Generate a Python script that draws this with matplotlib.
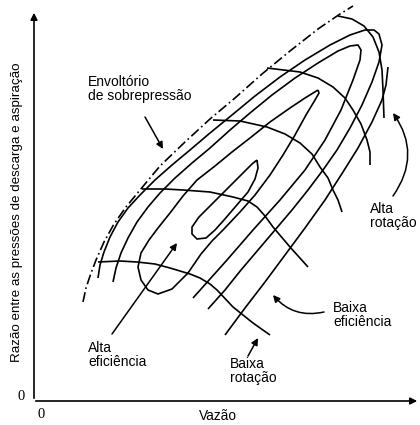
import matplotlib
matplotlib.use("Agg")
import matplotlib.pyplot as plt
import numpy as np

plt.rcParams['font.family'] = ['Liberation Sans', 'DejaVu Sans']

# -------------------------------
# Curves of the compressor map (image coords: x right, y down)
# -------------------------------
surge_x = [83, 86, 90, 96, 104, 114, 126, 140, 160, 185, 210, 235, 262, 290, 318, 340, 353]
surge_y = [302, 288, 276, 260, 242, 224, 207, 190, 166, 142, 119, 98, 74, 51, 29, 14, 6]

# efficiency islands, innermost first
eff_c1 = [(257, 160), (252, 164), (240, 176), (229, 187), (214, 202), (199, 217), (192, 227),
          (192, 234), (197, 239), (206, 238), (215, 230), (224, 220), (236, 206), (248, 192),
          (255, 179), (258, 168), (257, 160)]
eff_c2 = [(318, 90), (305, 98), (290, 108), (270, 122), (250, 138), (232, 152), (215, 166),
          (197, 180), (183, 196), (170, 213), (158, 228), (149, 240), (141, 253), (138, 267),
          (141, 280), (148, 290), (158, 294), (172, 289), (188, 273), (201, 254), (212, 241),
          (223, 230), (240, 212), (255, 195), (270, 175), (283, 155), (295, 135), (306, 115),
          (315, 100), (319, 93), (318, 90)]
eff_c3 = [(113, 282), (116, 268), (121, 253), (128, 238), (137, 222), (148, 207), (160, 193),
          (175, 178), (192, 163), (210, 148), (230, 130), (250, 113), (272, 95), (295, 78),
          (318, 63), (338, 51), (350, 46), (358, 45), (361, 50), (360, 60), (353, 80),
          (341, 110), (325, 140), (305, 170), (280, 200), (253, 230), (227, 260), (210, 279),
          (193, 298)]
eff_c4 = [(98, 278), (100, 265), (104, 252), (110, 237), (118, 222), (128, 208), (140, 195),
          (155, 180), (172, 165), (190, 150), (210, 133), (232, 115), (255, 96), (280, 77),
          (305, 60), (330, 45), (350, 35), (365, 30), (374, 30), (379, 34), (382, 45),
          (379, 62), (372, 82), (362, 105), (350, 128), (337, 150), (323, 170), (308, 190),
          (292, 210), (275, 230), (258, 250), (241, 270), (225, 290), (208, 309)]
eff_c5 = [(225, 335), (245, 308), (265, 282), (285, 255), (305, 228), (325, 200), (343, 172),
          (358, 148), (372, 122), (382, 100), (386, 85), (388, 67)]

# speed lines, high speed first
speed_1 = [(338, 16), (352, 19), (364, 26), (373, 37), (379, 52), (382, 70), (383, 90), (384, 118)]
speed_2 = [(267, 68), (300, 72), (318, 78), (333, 87), (345, 98), (353, 110), (361, 124),
           (367, 140), (370, 152), (370, 165)]
speed_3 = [(213, 120), (240, 121), (267, 127), (285, 134), (300, 143), (312, 154), (320, 167),
           (328, 178), (333, 190), (338, 200), (342, 212)]
speed_4 = [(142, 189), (165, 189), (183, 190), (210, 192), (233, 197), (248, 201), (257, 207),
           (265, 216), (273, 227), (290, 247), (308, 267)]
speed_5 = [(98, 262), (120, 261), (137, 262), (155, 264), (170, 268), (190, 274), (200, 278),
           (210, 284), (217, 290), (233, 307), (253, 323), (270, 335)]

# annotations: text, text position, arrow tail, arrow head, curvature
notes = ["Envoltório\nde sobrepressão", "Alta\neficiência", "Baixa\nrotação",
         "Baixa\neficiência", "Alta\nrotação"]
note_pos = [(88, 89), (88, 355), (230, 371), (333, 315), (370, 216)]
arrow_tail = [(145, 117), (112, 334), (248, 356), (324, 312), (393, 196)]
arrow_head = [(163, 149), (177, 243), (258, 338), (273, 295), (393, 113)]
arrow_rad = [0.0, 0.0, 0.0, -0.3, 0.35]

fig = plt.figure(figsize=(4.2, 4.25), dpi=100)
ax = fig.add_axes([0, 0, 1, 1])
ax.set_xlim(0, 420)
ax.set_ylim(425, 0)
ax.axis('off')

lw = 1.2
ax.plot(surge_x, surge_y, color='black', lw=lw, dashes=(6, 2, 1, 2))
for c in [eff_c1, eff_c2, eff_c3, eff_c4, eff_c5, speed_1, speed_2, speed_3, speed_4, speed_5]:
    c = np.array(c)
    ax.plot(c[:, 0], c[:, 1], color='black', lw=lw, solid_capstyle='butt',
            solid_joinstyle='round')

# axes with arrows
ax.annotate('', xy=(34, 10), xytext=(34, 401),
            arrowprops=dict(arrowstyle='-|>', color='black', lw=1.2, mutation_scale=10))
ax.annotate('', xy=(420, 401), xytext=(33, 401),
            arrowprops=dict(arrowstyle='-|>', color='black', lw=1.2, mutation_scale=10))

ax.text(21, 396, '0', family='Liberation Serif', fontsize=10.5, ha='center', va='center')
ax.text(41, 414, '0', family='Liberation Serif', fontsize=10.5, ha='center', va='center')
ax.text(218, 416, 'Vazão', fontsize=9.8, ha='center', va='center')
ax.text(17, 212, 'Razão entre as pressões de descarga e aspiração', fontsize=9.6,
        rotation=90, ha='center', va='center')

for t, p, a, h, r in zip(notes, note_pos, arrow_tail, arrow_head, arrow_rad):
    ax.text(p[0], p[1], t, fontsize=10, ha='left', va='center', linespacing=1.0)
    ax.annotate('', xy=h, xytext=a,
                arrowprops=dict(arrowstyle='-|>', color='black', lw=1.1, mutation_scale=10,
                                shrinkA=0, shrinkB=0,
                                connectionstyle='arc3,rad=%s' % r))

fig.savefig('out.png', dpi=100)
